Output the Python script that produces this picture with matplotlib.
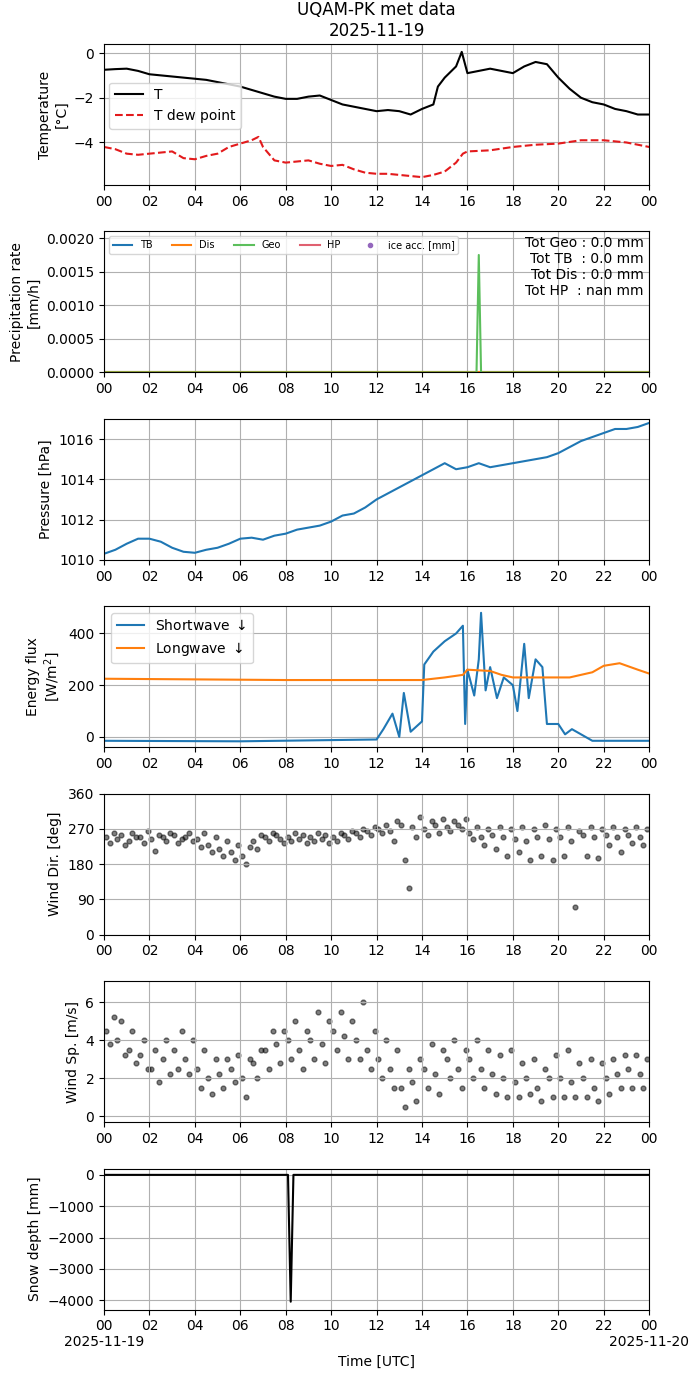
import numpy as np
import matplotlib
matplotlib.use("Agg")
import matplotlib.pyplot as plt

# temperature (hours UTC)
t_hours = [0, .5, 1, 1.5, 2, 2.5, 3, 3.5, 4, 4.5, 5, 5.5, 6, 6.5, 7, 7.5, 8, 8.5, 9, 9.5, 10, 10.5, 11, 11.5,
           12, 12.5, 13, 13.5, 14, 14.5, 14.7, 15, 15.5, 15.75, 16, 16.5, 17, 17.5, 18, 18.5, 19, 19.5, 20,
           20.5, 21, 21.5, 22, 22.5, 23, 23.5, 24]
temp = [-.75, -.72, -.7, -.8, -.95, -1.0, -1.05, -1.1, -1.15, -1.2, -1.3, -1.4, -1.5, -1.65, -1.8, -1.95, -2.05,
        -2.05, -1.95, -1.9, -2.1, -2.3, -2.4, -2.5, -2.6, -2.55, -2.6, -2.75, -2.5, -2.3, -1.5, -1.1, -.6, .05,
        -.9, -.8, -.7, -.8, -.9, -.6, -.4, -.5, -1.1, -1.6, -2.0, -2.2, -2.3, -2.5, -2.6, -2.75, -2.75]
td_hours = [0, .5, 1, 1.5, 2, 2.5, 3, 3.5, 4, 4.5, 5, 5.5, 6, 6.5, 6.8, 7, 7.5, 8, 8.5, 9, 9.5, 10, 10.5, 11,
            11.5, 12, 12.5, 13, 13.5, 14, 14.5, 15, 15.5, 15.8, 16, 17, 18, 19, 20, 21, 22, 23, 24]
tdew = [-4.2, -4.3, -4.5, -4.55, -4.5, -4.45, -4.4, -4.7, -4.75, -4.6, -4.5, -4.2, -4.05, -3.9, -3.75, -4.2,
        -4.8, -4.9, -4.85, -4.8, -4.95, -5.05, -5.0, -5.2, -5.35, -5.4, -5.4, -5.45, -5.5, -5.55, -5.45, -5.3,
        -4.9, -4.5, -4.4, -4.35, -4.2, -4.1, -4.05, -3.9, -3.9, -4.0, -4.2]

# precipitation
pr_hours = [0, 16.4, 16.5, 16.6, 24]
geo = [0, 0, 0.00175, 0, 0]

# pressure
p_hours = list(np.arange(0, 24.01, 0.5))
pres = [1010.3, 1010.5, 1010.8, 1011.05, 1011.05, 1010.9, 1010.6, 1010.4, 1010.35, 1010.5, 1010.6, 1010.8,
        1011.05, 1011.1, 1011.0, 1011.2, 1011.3, 1011.5, 1011.6, 1011.7, 1011.9, 1012.2, 1012.3, 1012.6,
        1013.0, 1013.3, 1013.6, 1013.9, 1014.2, 1014.5, 1014.8, 1014.5, 1014.6, 1014.8, 1014.6, 1014.7,
        1014.8, 1014.9, 1015.0, 1015.1, 1015.3, 1015.6, 1015.9, 1016.1, 1016.3, 1016.5, 1016.5, 1016.6, 1016.8]

# radiation
sw_hours = [0, 6, 12, 12.3, 12.7, 13, 13.2, 13.5, 14, 14.1, 14.5, 15, 15.5, 15.8, 15.9, 16, 16.3, 16.5, 16.6,
            16.8, 17, 17.3, 17.6, 18, 18.2, 18.5, 18.7, 19, 19.3, 19.5, 20, 20.3, 20.6, 21, 21.5, 24]
sw = [-15, -17, -10, 30, 90, 0, 170, 20, 60, 280, 330, 370, 400, 430, 50, 260, 160, 300, 480, 180, 270, 150,
      230, 200, 100, 360, 150, 300, 270, 50, 50, 10, 30, 10, -15, -15]
lw_hours = [0, 8, 14, 15, 15.8, 16, 17, 17.5, 18, 20.5, 21.5, 22, 22.7, 23.5, 24]
lw = [225, 220, 220, 230, 240, 260, 255, 240, 230, 230, 250, 275, 285, 260, 245]

# wind, 3 samples per half hour
wdir = [250, 235, 260, 245, 255, 230, 240, 260, 250, 250, 235, 265, 245, 215, 255, 250, 240, 260,
        255, 235, 245, 250, 260, 240, 245, 225, 260, 230, 210, 250, 220, 200, 240, 210, 190, 230,
        200, 180, 225, 240, 220, 255, 250, 240, 260, 255, 245, 235, 250, 240, 260, 245, 255, 235,
        250, 240, 260, 245, 255, 235, 250, 240, 260, 255, 245, 265, 260, 250, 270, 265, 255, 275,
        270, 260, 280, 265, 240, 290, 280, 190, 120, 275, 250, 300, 270, 255, 290, 280, 260, 295,
        275, 265, 290, 280, 270, 295, 260, 245, 275, 250, 230, 270, 255, 220, 275, 250, 200, 270,
        245, 210, 275, 240, 190, 270, 250, 200, 280, 245, 190, 270, 250, 200, 275, 240, 70, 265,
        255, 200, 275, 250, 195, 270, 255, 230, 275, 250, 210, 270, 255, 235, 275, 250, 230, 270]
wspd = [4.5, 3.8, 5.2, 4.0, 5.0, 3.2, 3.5, 4.5, 2.8, 3.2, 4.0, 2.5, 2.5, 3.5, 1.8, 3.0, 4.0, 2.2,
        3.5, 2.5, 4.5, 3.0, 2.2, 4.0, 2.5, 1.5, 3.5, 2.0, 1.2, 3.0, 2.2, 1.5, 3.0, 2.5, 1.8, 3.2,
        2.0, 1.0, 3.0, 2.8, 2.0, 3.5, 3.5, 2.5, 4.5, 3.8, 2.8, 4.5, 4.0, 3.0, 5.0, 3.5, 2.5, 4.5,
        4.0, 3.0, 5.5, 3.8, 2.8, 5.0, 4.5, 3.5, 5.5, 4.2, 3.0, 5.0, 4.0, 3.0, 6.0, 3.5, 2.5, 4.5,
        3.0, 2.0, 4.0, 2.5, 1.5, 3.5, 1.5, 0.5, 2.5, 1.8, 0.8, 3.0, 2.5, 1.5, 3.8, 2.2, 1.2, 3.5,
        3.0, 2.0, 4.0, 2.5, 1.5, 3.5, 3.0, 2.0, 4.0, 2.5, 1.5, 3.5, 2.2, 1.2, 3.2, 2.0, 1.0, 3.5,
        1.8, 1.0, 2.8, 2.0, 1.2, 3.0, 1.5, 0.8, 2.5, 2.0, 1.0, 3.2, 2.0, 1.0, 3.5, 1.8, 1.0, 2.8,
        2.0, 1.0, 3.0, 1.5, 0.8, 2.8, 2.0, 1.2, 3.0, 2.2, 1.5, 3.2, 2.5, 1.5, 3.2, 2.2, 1.5, 3.0]

# snow depth
sd_hours = [0, 8.1, 8.22, 8.34, 24]
snow = [0, 0, -4050, 0, 0]

w_hours = np.repeat(np.arange(0, 24, 0.5), 3) + np.tile([0.08, 0.25, 0.42], 48)

fig, axs = plt.subplots(7, 1, figsize=(6.98, 13.77), dpi=100)
fig.subplots_adjust(left=0.149, right=0.93, top=0.968, bottom=0.049, hspace=0.33)
axs[0].set_title("UQAM-PK met data\n2025-11-19")

ticks = np.arange(0, 24.1, 2)
labels = [f"{int(h) % 24:02d}" for h in ticks]
for ax in axs:
    ax.set_xlim(0, 24)
    ax.set_xticks(ticks)
    ax.set_xticklabels(labels)
    ax.grid(True)
axs[-1].set_xticklabels(["00\n2025-11-19"] + labels[1:-1] + ["00\n2025-11-20"])
axs[-1].set_xlabel("Time [UTC]")

ax = axs[0]
ax.plot(t_hours, temp, color="black", label="T")
ax.plot(td_hours, tdew, "--", color="#e31a1c", label="T dew point")
ax.set_ylabel("Temperature\n[°C]")
ax.set_ylim(-5.9, 0.4)
ax.legend(loc=(0.01, 0.4))

ax = axs[1]
zero = [0] * len(pr_hours)
ax.plot(pr_hours, zero, color="#1f77b4", label="TB")
ax.plot(pr_hours, zero, color="#ff7f0e", label="Dis")
ax.plot(pr_hours, geo, color="#5cbf5c", label="Geo")
ax.plot([], [], color="#e06070", label="HP")
ax.plot([], [], ".", color="#9467bd", label="ice acc. [mm]")
ax.set_ylim(0, 0.0021)
ax.set_ylabel("Precipitation rate\n[mm/h]")
ax.legend(loc="upper left", ncol=5, fontsize=7)
ax.text(0.99, 0.97, "Tot Geo : 0.0 mm\nTot TB  : 0.0 mm\nTot Dis : 0.0 mm\nTot HP  : nan mm",
        transform=ax.transAxes, ha="right", va="top", fontsize=10)

ax = axs[2]
ax.plot(p_hours, pres, color="#1f77b4")
ax.set_ylim(1010, 1017)
ax.set_ylabel("Pressure [hPa]")

ax = axs[3]
ax.plot(sw_hours, sw, color="#1f77b4", label="Shortwave $\\downarrow$")
ax.plot(lw_hours, lw, color="#ff7f0e", label="Longwave $\\downarrow$")
ax.set_ylim(-40, 505)
ax.set_ylabel("Energy flux\n[W/m$^2$]")
ax.legend(loc="upper left")

ax = axs[4]
ax.scatter(w_hours, wdir, s=12, color="black", alpha=0.5)
ax.set_ylim(0, 360)
ax.set_yticks([0, 90, 180, 270, 360])
ax.set_ylabel("Wind Dir. [deg]")

ax = axs[5]
ax.scatter(w_hours, wspd, s=12, color="black", alpha=0.5)
ax.set_ylim(-0.3, 7.1)
ax.set_ylabel("Wind Sp. [m/s]")

ax = axs[6]
ax.plot(sd_hours, snow, color="black")
ax.set_ylim(-4300, 200)
ax.set_ylabel("Snow depth [mm]")

fig.savefig("out.png")
